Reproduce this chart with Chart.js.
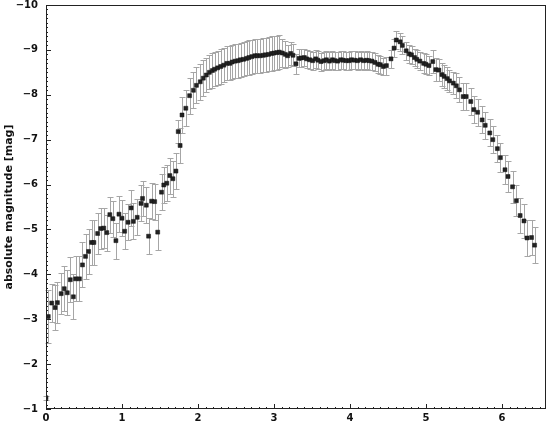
<!DOCTYPE html>
<html>
<head>
<meta charset="utf-8">
<script src="https://cdn.jsdelivr.net/npm/chart.js@4/dist/chart.umd.min.js"></script>
<style>
  html, body { margin: 0; padding: 0; background: #fff; }
  #wrap { width: 554px; height: 426px; }
</style>
</head>
<body>
<div id="wrap"><canvas id="lightCurve"></canvas></div>
<script>
'use strict';

// phase / time axis values
const xs = [
  0.00, 0.03, 0.075, 0.12, 0.15, 0.20, 0.24, 0.28, 0.32, 0.36,
  0.39, 0.44, 0.48, 0.52, 0.56, 0.60, 0.63, 0.68, 0.72, 0.76,
  0.80, 0.84, 0.88, 0.92, 0.96, 1.00, 1.035, 1.08, 1.12, 1.15,
  1.20, 1.25, 1.27, 1.32, 1.35, 1.39, 1.43, 1.47, 1.52, 1.55,
  1.59, 1.63, 1.67, 1.71, 1.74, 1.765, 1.79, 1.84, 1.89, 1.94,
  1.98, 2.03, 2.07, 2.11, 2.15, 2.19, 2.22, 2.26, 2.30, 2.34,
  2.38, 2.42, 2.45, 2.49, 2.53, 2.56, 2.60, 2.64, 2.67, 2.71,
  2.75, 2.78, 2.82, 2.86, 2.89, 2.93, 2.97, 3.00, 3.04, 3.07,
  3.11, 3.15, 3.18, 3.22, 3.25, 3.29, 3.33, 3.36, 3.40, 3.43,
  3.47, 3.51, 3.55, 3.58, 3.62, 3.66, 3.69, 3.73, 3.77, 3.80,
  3.84, 3.88, 3.91, 3.95, 3.99, 4.02, 4.06, 4.10, 4.14, 4.18,
  4.22, 4.25, 4.29, 4.33, 4.37, 4.40, 4.44, 4.48, 4.54, 4.58,
  4.61, 4.66, 4.69, 4.74, 4.78, 4.81, 4.85, 4.88, 4.92, 4.97,
  5.00, 5.04, 5.09, 5.13, 5.17, 5.21, 5.24, 5.28, 5.31, 5.36,
  5.40, 5.44, 5.49, 5.53, 5.59, 5.63, 5.68, 5.74, 5.78, 5.84,
  5.88, 5.94, 5.98, 6.04, 6.08, 6.14, 6.19, 6.24, 6.29, 6.33,
  6.39, 6.43
];

// absolute magnitude
const mags = [
  -1.25, -3.06, -3.36, -3.26, -3.37, -3.57, -3.68, -3.59, -3.88, -3.50,
  -3.90, -3.90, -4.21, -4.40, -4.51, -4.71, -4.71, -4.91, -5.02, -5.03,
  -4.93, -5.33, -5.24, -4.75, -5.34, -5.25, -4.96, -5.16, -5.48, -5.18,
  -5.27, -5.58, -5.69, -5.54, -4.85, -5.63, -5.62, -4.94, -5.83, -5.99,
  -6.03, -6.20, -6.13, -6.30, -7.18, -6.87, -7.55, -7.70, -7.98, -8.10,
  -8.21, -8.29, -8.37, -8.44, -8.50, -8.54, -8.57, -8.60, -8.63, -8.66,
  -8.70, -8.70, -8.73, -8.75, -8.76, -8.78, -8.79, -8.81, -8.83, -8.85,
  -8.87, -8.87, -8.87, -8.88, -8.89, -8.90, -8.92, -8.93, -8.94, -8.95,
  -8.93, -8.90, -8.87, -8.92, -8.88, -8.69, -8.81, -8.82, -8.83, -8.80,
  -8.78, -8.76, -8.80, -8.77, -8.74, -8.76, -8.78, -8.75, -8.78, -8.76,
  -8.75, -8.78, -8.77, -8.76, -8.76, -8.78, -8.77, -8.76, -8.78, -8.76,
  -8.77, -8.76, -8.75, -8.72, -8.68, -8.67, -8.63, -8.65, -8.80, -9.04,
  -9.22, -9.18, -9.10, -8.98, -8.91, -8.89, -8.83, -8.79, -8.75, -8.70,
  -8.68, -8.65, -8.74, -8.56, -8.55, -8.45, -8.41, -8.36, -8.31, -8.26,
  -8.20, -8.11, -7.96, -7.96, -7.85, -7.67, -7.61, -7.44, -7.32, -7.15,
  -7.00, -6.80, -6.60, -6.33, -6.18, -5.95, -5.64, -5.31, -5.19, -4.81,
  -4.82, -4.65
];

// 1-sigma errors
const errs = [
  0.05, 0.58, 0.42, 0.50, 0.45, 0.45, 0.50, 0.50, 0.50, 0.50,
  0.50, 0.50, 0.50, 0.50, 0.50, 0.50, 0.50, 0.45, 0.45, 0.45,
  0.40, 0.40, 0.40, 0.40, 0.40, 0.40, 0.40, 0.40, 0.40, 0.40,
  0.40, 0.40, 0.40, 0.40, 0.40, 0.40, 0.40, 0.40, 0.40, 0.40,
  0.40, 0.40, 0.40, 0.40, 0.25, 0.40, 0.40, 0.40, 0.40, 0.40,
  0.40, 0.40, 0.40, 0.38, 0.38, 0.38, 0.38, 0.38, 0.38, 0.38,
  0.38, 0.38, 0.38, 0.38, 0.38, 0.38, 0.38, 0.38, 0.38, 0.38,
  0.38, 0.38, 0.38, 0.38, 0.38, 0.38, 0.38, 0.38, 0.38, 0.38,
  0.32, 0.30, 0.25, 0.25, 0.25, 0.22, 0.20, 0.20, 0.20, 0.20,
  0.20, 0.20, 0.20, 0.20, 0.20, 0.20, 0.20, 0.20, 0.20, 0.20,
  0.20, 0.20, 0.20, 0.20, 0.20, 0.20, 0.20, 0.20, 0.20, 0.20,
  0.20, 0.20, 0.20, 0.20, 0.20, 0.20, 0.20, 0.20, 0.20, 0.20,
  0.20, 0.20, 0.20, 0.20, 0.20, 0.20, 0.20, 0.20, 0.20, 0.22,
  0.22, 0.22, 0.25, 0.25, 0.25, 0.25, 0.25, 0.25, 0.25, 0.25,
  0.28, 0.28, 0.30, 0.30, 0.30, 0.30, 0.30, 0.30, 0.30, 0.30,
  0.30, 0.30, 0.32, 0.32, 0.35, 0.35, 0.35, 0.38, 0.38, 0.40,
  0.40, 0.40
];

const xTicks = [0, 1, 2, 3, 4, 5, 6];
const yTicks = [-10, -9, -8, -7, -6, -5, -4, -3, -2, -1];
const xRange = [0, 6.58];
const yRange = [-10, -1];
const yTitle = 'absolute magnitude [mag]';

const fontFamily = '"DejaVu Sans", sans-serif';

function fmtTick(v) {
  return v < 0 ? '\u2212' + Math.abs(v) : String(v);
}

// gray vertical error bars with caps, drawn under the points
const errorBars = {
  id: 'errorBars',
  beforeDatasetsDraw(chart) {
    const { ctx, scales: { x, y } } = chart;
    ctx.save();
    ctx.strokeStyle = '#a6a6a6';
    ctx.lineWidth = 1;
    xs.forEach((xv, i) => {
      const px = Math.round(x.getPixelForValue(xv)) + 0.5;
      const top = Math.round(y.getPixelForValue(mags[i] - errs[i])) + 0.5;
      const bot = Math.round(y.getPixelForValue(mags[i] + errs[i])) + 0.5;
      ctx.beginPath();
      ctx.moveTo(px, top);
      ctx.lineTo(px, bot);
      ctx.moveTo(px - 3, top);
      ctx.lineTo(px + 3, top);
      ctx.moveTo(px - 3, bot);
      ctx.lineTo(px + 3, bot);
      ctx.stroke();
    });
    ctx.restore();
  }
};

// black frame, inward major + minor ticks on left and bottom
const frame = {
  id: 'frame',
  afterDraw(chart) {
    const { ctx, chartArea: a, scales: { x, y } } = chart;
    ctx.save();
    ctx.strokeStyle = '#222';
    ctx.lineWidth = 1;
    ctx.strokeRect(a.left + 0.5, a.top + 0.5, a.right - a.left - 1, a.bottom - a.top - 1);
    ctx.beginPath();
    for (let k = 0; k <= Math.floor(xRange[1] * 10); k++) {
      const v = k / 10;
      const px = Math.round(x.getPixelForValue(v)) + 0.5;
      const len = k % 10 === 0 ? 5 : 2;
      ctx.moveTo(px, a.bottom);
      ctx.lineTo(px, a.bottom - len);
    }
    for (let k = yRange[0] * 10; k <= yRange[1] * 10; k++) {
      const py = Math.round(y.getPixelForValue(k / 10)) + 0.5;
      const len = k % 10 === 0 ? 5 : 2;
      ctx.moveTo(a.left, py);
      ctx.lineTo(a.left + len, py);
    }
    ctx.stroke();
    ctx.restore();
  }
};

const ctx = document.getElementById('lightCurve').getContext('2d');

new Chart(ctx, {
  type: 'scatter',
  data: {
    datasets: [{
      data: xs.map((v, i) => ({ x: v, y: mags[i] })),
      pointStyle: 'rect',
      pointRadius: 2.8,
      pointBackgroundColor: '#222',
      pointBorderColor: '#111',
      pointBorderWidth: 0.5
    }]
  },
  options: {
    responsive: true,
    maintainAspectRatio: false,
    animation: false,
    layout: { padding: { top: 5, right: 8, left: 0, bottom: 0 } },
    plugins: {
      legend: { display: false },
      tooltip: { enabled: false }
    },
    scales: {
      x: {
        type: 'linear',
        min: xRange[0],
        max: xRange[1],
        afterBuildTicks: s => { s.ticks = xTicks.map(v => ({ value: v })); },
        afterFit: s => { s.height = 17; s.paddingLeft = 0; s.paddingRight = 0; },
        grid: { display: false, drawTicks: false },
        border: { display: false },
        ticks: {
          color: '#111',
          padding: 3,
          maxRotation: 0,
          font: { family: fontFamily, size: 10, weight: 'bold' },
          callback: fmtTick
        }
      },
      y: {
        type: 'linear',
        reverse: true,
        min: yRange[0],
        max: yRange[1],
        afterBuildTicks: s => { s.ticks = yTicks.map(v => ({ value: v })); },
        afterFit: s => { s.width = 46; s.paddingTop = 0; s.paddingBottom = 0; },
        grid: { display: false, drawTicks: false },
        border: { display: false },
        title: {
          display: true,
          text: yTitle,
          color: '#111',
          padding: { top: 3, bottom: 3 },
          font: { family: fontFamily, size: 11, weight: 'bold' }
        },
        ticks: {
          color: '#111',
          padding: 8,
          font: { family: fontFamily, size: 10, weight: 'bold' },
          callback: fmtTick
        }
      }
    }
  },
  plugins: [errorBars, frame]
});
</script>
</body>
</html>
